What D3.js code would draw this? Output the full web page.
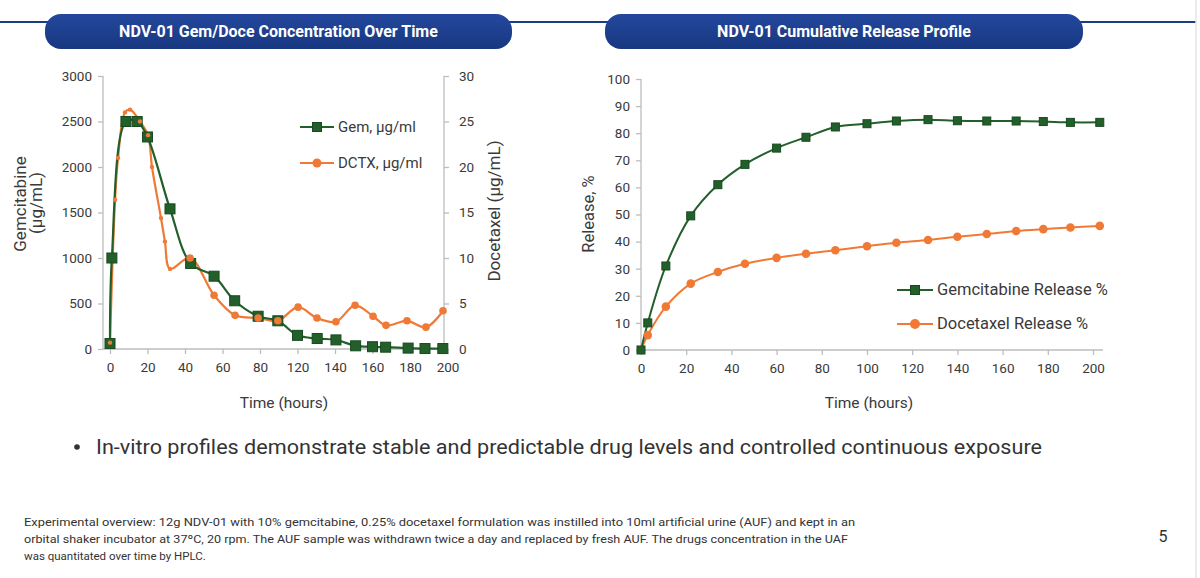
<!DOCTYPE html>
<html><head><meta charset="utf-8">
<script src="https://cdn.jsdelivr.net/npm/d3@7"></script>
<style>
body{margin:0;background:#fff;}
svg{display:block;font-family:Roboto,"Noto Sans",sans-serif;}
</style>
</head><body>
<svg id="c" width="1200" height="578"></svg>
<script>
// ---------- DATA ----------
const leftXTicks = [0, 20, 40, 60, 80, 120, 140, 160, 180, 200];
const leftYTicks = [0, 500, 1000, 1500, 2000, 2500, 3000];
const leftY2Ticks = [0, 5, 10, 15, 20, 25, 30];

const gemTime = [0, 1, 8.5, 14.5, 20, 32, 43, 55.5, 66.5, 79, 99, 120, 130.5, 140.5, 151, 160, 167, 179, 188, 197.5];
const gemConc = [60, 1000, 2500, 2500, 2330, 1540, 940, 800, 530, 360, 310, 150, 115, 100, 35, 25, 20, 10, 5, 5];

const dctxTime = [0, 2.7, 4.3, 8, 10.7, 16, 20.3, 22.4, 27.2, 29.3, 32, 42.7, 55.5, 66.7, 79, 99, 120.3, 130.4, 140.5, 150.7, 160.3, 167.2, 178.4, 188.5, 197.6];
const dctxConc = [0.7, 16.4, 21, 26, 26.3, 25, 23.5, 20, 14.4, 11.8, 8.8, 10, 5.9, 3.7, 3.4, 3.1, 4.6, 3.4, 3.0, 4.8, 3.6, 2.6, 3.1, 2.4, 4.2];

const relTime = [0, 3, 11, 22, 34, 46, 60, 73, 86, 100, 113, 127, 140, 153, 166, 178, 190, 203];
const gemRelease = [0, 10, 31, 49.5, 61, 68.5, 74.5, 78.5, 82.3, 83.5, 84.5, 85, 84.6, 84.5, 84.5, 84.3, 84, 84];
const docRelease = [0, 5.5, 16, 24.5, 28.8, 31.8, 34, 35.5, 36.8, 38.3, 39.6, 40.6, 41.8, 42.8, 43.9, 44.6, 45.2, 45.8];
const relXTicks = [0, 20, 40, 60, 80, 100, 120, 140, 160, 180, 200];
const relYTicks = [0, 10, 20, 30, 40, 50, 60, 70, 80, 90, 100];

const leftTitle = "NDV-01 Gem/Doce Concentration Over Time";
const rightTitle = "NDV-01 Cumulative Release Profile";
const leftLegend = ["Gem, µg/ml", "DCTX, µg/ml"];
const rightLegend = ["Gemcitabine Release %", "Docetaxel Release %"];
const bullet = "In-vitro profiles demonstrate stable and predictable drug levels and controlled continuous exposure";
const footer = [
  "Experimental overview: 12g NDV-01 with 10% gemcitabine, 0.25% docetaxel formulation was instilled into 10ml artificial urine (AUF) and kept in an",
  "orbital shaker incubator at 37ºC, 20 rpm. The AUF sample was withdrawn twice a day and replaced by fresh AUF. The drugs concentration in the UAF",
  "was quantitated over time by HPLC."
];

// ---------- STYLE ----------
const GREEN = "#235f2b", GREEN_D = "#174a1e", ORANGE = "#f07a35";
const AXIS = "#bdbdbd", TXT = "#3a3a3a";
const svg = d3.select("#c");

const defs = svg.append("defs");
const g1 = defs.append("linearGradient").attr("id","pill").attr("x1",0).attr("y1",0).attr("x2",0).attr("y2",1);
g1.append("stop").attr("offset","0%").attr("stop-color","#24489e");
g1.append("stop").attr("offset","100%").attr("stop-color","#183780");

svg.append("line").attr("x1",0).attr("x2",1196).attr("y1",22).attr("y2",22).attr("stroke","#1d3c88").attr("stroke-width",2);
function pill(x0, x1, txt){
  svg.append("rect").attr("x",x0).attr("y",14).attr("width",x1-x0).attr("height",35).attr("rx",16)
    .attr("fill","url(#pill)");
  svg.append("text").attr("x",(x0+x1)/2).attr("y",37).attr("text-anchor","middle")
    .attr("fill","#fff").attr("font-weight",700).attr("font-size",16).text(txt);
}
pill(45, 512, leftTitle);
pill(605, 1083, rightTitle);
svg.append("line").attr("x1",1196).attr("x2",1196).attr("y1",0).attr("y2",578).attr("stroke","#e4e4e4").attr("stroke-width",1.5);

// ---------- LEFT CHART ----------
const xL = d3.scaleLinear().domain([0, 80, 120, 200]).range([110, 260, 297.5, 447.5]);
const yL = d3.scaleLinear().domain([0, 3000]).range([349, 76]);
const yR = d3.scaleLinear().domain([0, 30]).range([349, 76]);
const lx0 = 103, lx1 = 444;

const L = svg.append("g");
L.append("line").attr("x1",lx0).attr("x2",lx1).attr("y1",349).attr("y2",349).attr("stroke",AXIS).attr("stroke-width",1.3);
L.append("line").attr("x1",lx0).attr("x2",lx0).attr("y1",76).attr("y2",349).attr("stroke",AXIS).attr("stroke-width",1.3);
L.append("line").attr("x1",lx1).attr("x2",lx1).attr("y1",76).attr("y2",349).attr("stroke",AXIS).attr("stroke-width",1.3);

const fmt = d3.format("d");
const axL = L.append("g").attr("transform",`translate(${lx0},0)`).call(d3.axisLeft(yL).tickValues(leftYTicks).tickFormat(fmt).tickSize(5).tickPadding(6));
const axR = L.append("g").attr("transform",`translate(${lx1},0)`).call(d3.axisRight(yR).tickValues(leftY2Ticks).tickFormat(fmt).tickSize(5).tickPadding(10));
const axB = L.append("g").attr("transform",`translate(0,349)`).call(d3.axisBottom(xL).tickValues(leftXTicks).tickFormat(fmt).tickSize(5).tickPadding(8));
[axL, axR, axB].forEach(a=>{
  a.select(".domain").remove();
  a.selectAll(".tick line").attr("stroke",AXIS).attr("stroke-width",1.3);
  a.selectAll(".tick text").attr("fill",TXT).attr("font-size",13.5).attr("font-family","Roboto, sans-serif");
});

L.append("text").attr("transform","translate(26,204) rotate(-90)").attr("text-anchor","middle").attr("fill",TXT).attr("font-size",17).text("Gemcitabine");
L.append("text").attr("transform","translate(42,203) rotate(-90)").attr("text-anchor","middle").attr("fill",TXT).attr("font-size",17).text("(µg/mL)");
L.append("text").attr("transform","translate(500,211) rotate(-90)").attr("text-anchor","middle").attr("fill",TXT).attr("font-size",17).text("Docetaxel (µg/mL)");
L.append("text").attr("x",284).attr("y",408).attr("text-anchor","middle").attr("fill",TXT).attr("font-size",15.5).text("Time (hours)");

const curve = d3.curveCatmullRom.alpha(0.5);
const gemPts = gemTime.map((t,i)=>[t, gemConc[i]]);
const dctxPts = dctxTime.map((t,i)=>[t, dctxConc[i]]);

L.append("path").datum(dctxPts).attr("fill","none").attr("stroke",ORANGE).attr("stroke-width",2.2)
  .attr("d", d3.line().x(d=>xL(d[0])).y(d=>yR(d[1])).curve(curve));
L.append("path").datum(gemPts).attr("fill","none").attr("stroke",GREEN).attr("stroke-width",2.2)
  .attr("d", d3.line().x(d=>xL(d[0])).y(d=>yL(d[1])).curve(curve));
L.selectAll("rect.gem").data(gemPts).join("rect").attr("class","gem")
  .attr("x",d=>xL(d[0])-5).attr("y",d=>yL(d[1])-5).attr("width",10).attr("height",10)
  .attr("fill",GREEN).attr("stroke",GREEN_D).attr("stroke-width",1);
L.selectAll("circle.dc").data(dctxPts).join("circle").attr("class","dc")
  .attr("cx",d=>xL(d[0])).attr("cy",d=>yR(d[1])).attr("r",d=>d[0] < 35 ? 2.2 : 3.8)
  .attr("fill",ORANGE);

function legend(g, x0, x1, y, txt, type, size, fs){
  g.append("line").attr("x1",x0).attr("x2",x1).attr("y1",y).attr("y2",y)
    .attr("stroke", type==="sq"?GREEN:ORANGE).attr("stroke-width",2.2);
  const cx = (x0+x1)/2;
  if(type==="sq") g.append("rect").attr("x",cx-size/2).attr("y",y-size/2).attr("width",size).attr("height",size).attr("fill",GREEN).attr("stroke",GREEN_D);
  else g.append("circle").attr("cx",cx).attr("cy",y).attr("r",size/2).attr("fill",ORANGE);
  g.append("text").attr("x",x1+4).attr("y",y+5).attr("fill",TXT).attr("font-size",fs).text(txt);
}
legend(L, 300, 334, 127, leftLegend[0], "sq", 9, 15);
legend(L, 300, 334, 163, leftLegend[1], "ci", 9, 15);

// ---------- RIGHT CHART ----------
const xR = d3.scaleLinear().domain([0, 200]).range([641, 1093]);
const yP = d3.scaleLinear().domain([0, 100]).range([350, 79]);
const R = svg.append("g");
R.append("line").attr("x1",641).attr("x2",1103).attr("y1",350).attr("y2",350).attr("stroke",AXIS).attr("stroke-width",1.3);
R.append("line").attr("x1",641).attr("x2",641).attr("y1",79).attr("y2",350).attr("stroke",AXIS).attr("stroke-width",1.3);
const rAL = R.append("g").attr("transform","translate(641,0)").call(d3.axisLeft(yP).tickValues(relYTicks).tickFormat(fmt).tickSize(5).tickPadding(6));
const rAB = R.append("g").attr("transform","translate(0,350)").call(d3.axisBottom(xR).tickValues(relXTicks).tickFormat(fmt).tickSize(5).tickPadding(8));
[rAL, rAB].forEach(a=>{
  a.select(".domain").remove();
  a.selectAll(".tick line").attr("stroke",AXIS).attr("stroke-width",1.3);
  a.selectAll(".tick text").attr("fill",TXT).attr("font-size",13.5).attr("font-family","Roboto, sans-serif");
});
R.append("text").attr("transform","translate(594,214) rotate(-90)").attr("text-anchor","middle").attr("fill",TXT).attr("font-size",16.5).text("Release, %");
R.append("text").attr("x",869).attr("y",408).attr("text-anchor","middle").attr("fill",TXT).attr("font-size",15.5).text("Time (hours)");

const gemR = relTime.map((t,i)=>[t, gemRelease[i]]);
const docR = relTime.map((t,i)=>[t, docRelease[i]]);
const lineR = d3.line().x(d=>xR(d[0])).y(d=>yP(d[1])).curve(curve);
R.append("path").datum(docR).attr("fill","none").attr("stroke",ORANGE).attr("stroke-width",2).attr("d",lineR);
R.append("path").datum(gemR).attr("fill","none").attr("stroke",GREEN).attr("stroke-width",2).attr("d",lineR);
R.selectAll("circle.dr").data(docR).join("circle").attr("class","dr")
  .attr("cx",d=>xR(d[0])).attr("cy",d=>yP(d[1])).attr("r",4.3).attr("fill",ORANGE);
R.selectAll("rect.gr").data(gemR).join("rect").attr("class","gr")
  .attr("x",d=>xR(d[0])-4).attr("y",d=>yP(d[1])-4).attr("width",8).attr("height",8)
  .attr("fill",GREEN).attr("stroke",GREEN_D);
legend(R, 897, 933, 290, rightLegend[0], "sq", 9, 16.5);
legend(R, 897, 933, 324, rightLegend[1], "ci", 10, 16.5);

// ---------- TEXT ----------
svg.append("circle").attr("cx",77).attr("cy",447).attr("r",2.8).attr("fill","#333");
svg.append("text").attr("x",96).attr("y",454).attr("fill","#333").attr("font-size",19.5)
  .attr("textLength",946).attr("lengthAdjust","spacingAndGlyphs").text(bullet);
const fLens = [831, 824, null];
footer.forEach((s,i)=>{
  const t = svg.append("text").attr("x",24).attr("y",526 + i*17).attr("fill","#333").attr("font-size",11.5).text(s);
  if(fLens[i]) t.attr("textLength",fLens[i]).attr("lengthAdjust","spacingAndGlyphs");
});
svg.append("text").attr("x",1163).attr("y",542).attr("text-anchor","middle").attr("fill","#333").attr("font-size",16).text("5");
</script>
</body></html>
